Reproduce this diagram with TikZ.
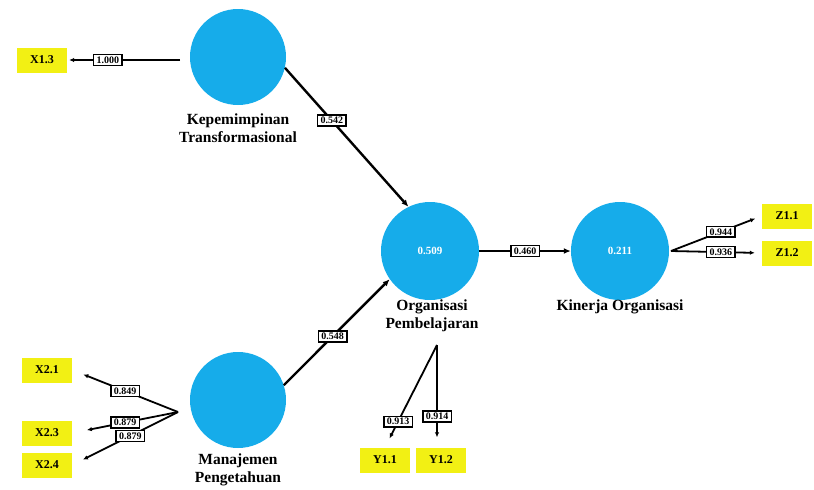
\documentclass[tikz,border=0pt]{standalone}
\usepackage{fontspec}
\setmainfont{Liberation Serif}
\usetikzlibrary{arrows.meta}
\definecolor{lvblue}{RGB}{22,172,234}
\definecolor{indyellow}{RGB}{242,240,20}
\tikzset{
  lv/.style={circle, fill=lvblue, draw=none, minimum size=96pt, inner sep=0pt,
    text=white, font=\fontsize{11}{13}\selectfont\bfseries},
  ind/.style={fill=indyellow, minimum width=50pt, minimum height=25pt, inner sep=0pt,
    font=\fontsize{12}{14}\selectfont\bfseries},
  lvlabel/.style={align=center, font=\fontsize{15.5}{18}\selectfont\bfseries},
  coef/.style={draw=black, fill=white, line width=1.5pt, inner xsep=3pt, inner ysep=2pt,
    font=\fontsize{10}{11}\selectfont\bfseries},
  path arrow/.style={line width=2.4pt, -{Latex[length=7pt,width=6pt]}},
  load arrow/.style={line width=1.8pt, -{Latex[length=5pt,width=4.5pt]}}
}
\begin{document}
\begin{tikzpicture}[x=1pt, y=-1pt]
\useasboundingbox (0,0) rectangle (814,490);
% latent variables
\node[lv] (kep) at (238,57) {};
\node[lv] (man) at (238,400) {};
\node[lv, minimum size=98pt] (org) at (430,251) {0.509};
\node[lv, minimum size=98pt] (kin) at (620,251) {0.211};
\node[lvlabel] (kepl) at (238,128) {Kepemimpinan\\Transformasional};
\node[lvlabel] (manl) at (238,470) {Manajemen\\Pengetahuan};
\node[lvlabel] (orgl) at (432,316) {Organisasi\\Pembelajaran};
\node[lvlabel] (kinl) at (620,307) {Kinerja Organisasi};
% indicators
\node[ind] (x13) at (42,60) {X1.3};
\node[ind] (x21) at (47,370) {X2.1};
\node[ind] (x23) at (47,433) {X2.3};
\node[ind] (x24) at (47,465) {X2.4};
\node[ind] (y11) at (385,460) {Y1.1};
\node[ind] (y12) at (441,460) {Y1.2};
\node[ind] (z11) at (787,216) {Z1.1};
\node[ind] (z12) at (787,253) {Z1.2};
\coordinate (kepL) at (180,60);
\coordinate (manL) at (178,412);
\coordinate (orgB) at (437,345);
\coordinate (kinR) at (671,251);
% structural paths
\draw[path arrow] (kep.-13) -- (org.116) node[coef, pos=0.38] {0.542};
\draw[path arrow] (man.18) -- (org.215) node[coef, pos=0.46] {0.548};
\draw[path arrow] (org.east) -- (kin.west) node[coef, pos=0.5] {0.460};
% loadings
\draw[load arrow, shorten >=2pt] (kepL) -- (x13.east) node[coef, pos=0.64] {1.000};
\draw[load arrow, shorten >=12pt] (manL) -- (x21.east) node[coef, pos=0.5] {0.849};
\draw[load arrow, shorten >=15pt] (manL) -- (x23.east) node[coef, pos=0.5] {0.879};
\draw[load arrow, shorten >=12pt] (manL) -- (x24.east) node[coef, pos=0.45] {0.879};
\draw[load arrow, shorten >=10pt] (orgB) -- (y11.north) node[coef, pos=0.75] {0.913};
\draw[load arrow, shorten >=10pt] (orgB) -- (orgB |- y12.north) node[coef, pos=0.7] {0.914};
\draw[load arrow, shorten >=7pt] (kinR) -- (z11.west) node[coef, pos=0.55] {0.944};
\draw[load arrow, shorten >=7pt] (kinR) -- (z12.west) node[coef, pos=0.55] {0.936};
\end{tikzpicture}
\end{document}
